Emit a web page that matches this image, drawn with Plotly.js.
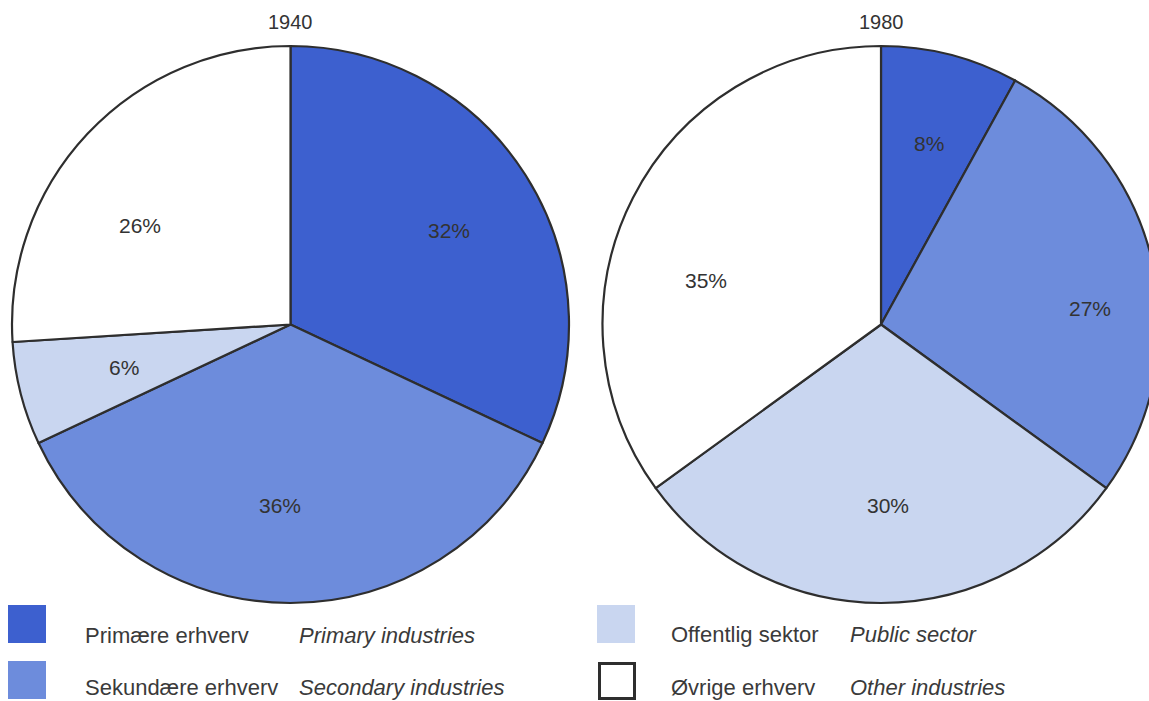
<!DOCTYPE html>
<html>
<head>
<meta charset="utf-8">
<script src="https://cdn.plot.ly/plotly-3.0.1.min.js"></script>
<style>
html,body{margin:0;padding:0;background:#fff;overflow:hidden;}
#chart{width:1200px;height:701px;}
</style>
</head>
<body>
<div id="chart"></div>
<script>
// ---- data ----
const categoriesNo = ["Primære erhverv", "Sekundære erhverv", "Offentlig sektor", "Øvrige erhverv"];
const categoriesEn = ["Primary industries", "Secondary industries", "Public sector", "Other industries"];
const years = ["1940", "1980"];
const values1940 = [32, 36, 6, 26];
const values1980 = [8, 27, 30, 35];

// ---- style ----
const colors = ["#3d60cf", "#6d8cdc", "#c9d6f0", "#ffffff"];
const lineColor = "#2e2e2e";
const textColor = "#333333";
const W = 1200, H = 701;
const FONT = "Liberation Sans, Arial, Helvetica, sans-serif";

const pies = [
  {vals: values1940, cx: 290.5, cy: 324.5, r: 278.5},
  {vals: values1980, cx: 881, cy: 324.5, r: 278.5}
];
// small hand placement tweaks of the percent texts (pixels), as in the printed original
const labelNudge = [
  [[8, 2], [-11, 3], [6, -1], [-21, 23]],
  [[4, -8], [35, 23], [7, 3], [-16, 37]]
];

const px = x => x / W;
const py = y => 1 - y / H;

const data = pies.map((p, i) => ({
  type: "pie",
  values: p.vals,
  labels: categoriesNo,
  sort: false,
  direction: "clockwise",
  rotation: 0,
  textinfo: "none",
  hoverinfo: "label+percent",
  showlegend: false,
  marker: {colors: colors, line: {color: lineColor, width: 2.2}},
  domain: {x: [px(p.cx - p.r), px(p.cx + p.r)], y: [py(p.cy + p.r), py(p.cy - p.r)]}
}));

const annotations = [];
const shapes = [];

// year titles
pies.forEach((p, i) => {
  annotations.push({
    xref: "paper", yref: "paper", x: px(p.cx), y: py(22),
    text: years[i], showarrow: false, xanchor: "center", yanchor: "middle",
    font: {family: FONT, size: 20, color: textColor}
  });
});

// percent labels computed from values
const labelFrac = 0.64;
pies.forEach((p, pi) => {
  const total = p.vals.reduce((a, b) => a + b, 0);
  let cum = 0;
  p.vals.forEach((v, k) => {
    const mid = (cum + v / 2) / total * 2 * Math.PI;
    cum += v;
    const x = p.cx + labelFrac * p.r * Math.sin(mid) + labelNudge[pi][k][0];
    const y = p.cy - labelFrac * p.r * Math.cos(mid) + labelNudge[pi][k][1];
    annotations.push({
      xref: "paper", yref: "paper", x: px(x), y: py(y),
      text: v + "%", showarrow: false, xanchor: "center", yanchor: "middle",
      font: {family: FONT, size: 21, color: textColor}
    });
  });
});

// legend
const legendItems = [
  {sx: 8, sy: 605, tx: 83, ex: 297, ty: 635},
  {sx: 8, sy: 661, tx: 83, ex: 297, ty: 687},
  {sx: 597, sy: 605, tx: 669, ex: 848, ty: 634},
  {sx: 598, sy: 662, tx: 669, ex: 848, ty: 687}
];
legendItems.forEach((it, i) => {
  const isOutline = colors[i].toLowerCase() === "#ffffff";
  shapes.push({
    type: "rect", xref: "paper", yref: "paper",
    x0: px(it.sx + (isOutline ? 1.5 : 0)), x1: px(it.sx + 38 - (isOutline ? 1.5 : 0)),
    y0: py(it.sy + 38 - (isOutline ? 1.5 : 0)), y1: py(it.sy + (isOutline ? 1.5 : 0)),
    fillcolor: colors[i],
    line: {color: isOutline ? lineColor : colors[i], width: isOutline ? 3 : 0}
  });
  annotations.push({
    xref: "paper", yref: "paper", x: px(it.tx), y: py(it.ty),
    text: categoriesNo[i], showarrow: false, xanchor: "left", yanchor: "middle",
    font: {family: FONT, size: 22, color: "#3a3a3a"}
  });
  annotations.push({
    xref: "paper", yref: "paper", x: px(it.ex), y: py(it.ty),
    text: "<i>" + categoriesEn[i] + "</i>", showarrow: false, xanchor: "left", yanchor: "middle",
    font: {family: FONT, size: 22, color: "#3a3a3a"}
  });
});

const layout = {
  width: W, height: H,
  margin: {l: 0, r: 0, t: 0, b: 0},
  paper_bgcolor: "#ffffff",
  plot_bgcolor: "#ffffff",
  annotations: annotations,
  shapes: shapes
};

Plotly.newPlot("chart", data, layout, {displayModeBar: false, staticPlot: true});
</script>
</body>
</html>
